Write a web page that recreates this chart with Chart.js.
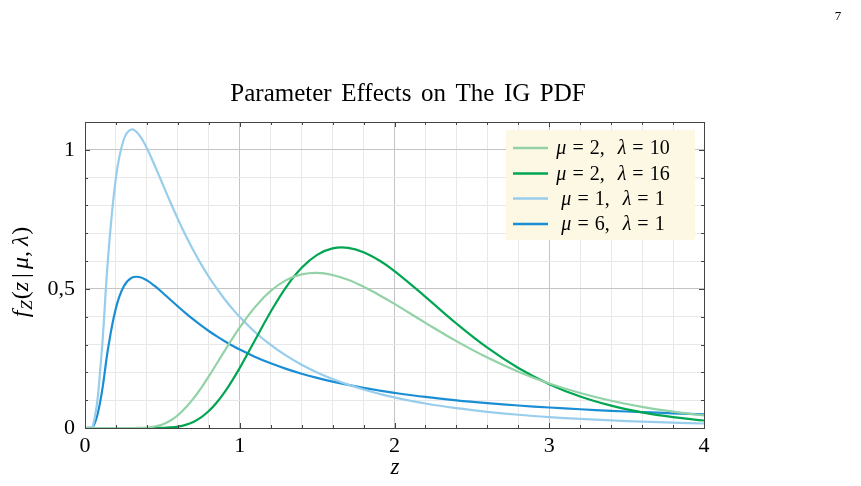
<!DOCTYPE html>
<html>
<head>
<meta charset="utf-8">
<script src="https://cdn.jsdelivr.net/npm/chart.js@4/dist/chart.umd.min.js"></script>
<style>
  body { margin: 0; background: #fff; }
  canvas { display: block; }
</style>
</head>
<body>
<canvas id="myChart" width="861" height="486"></canvas>
<script>
// z sample positions (read along the x axis)
var zs = [0, 0.05, 0.1, 0.15, 0.2, 0.25, 0.3, 0.35, 0.4, 0.45, 0.5, 0.55, 0.6, 0.65, 0.7, 0.75, 0.8, 0.85, 0.9, 0.95,
  1.0, 1.1, 1.2, 1.3, 1.4, 1.5, 1.6, 1.7, 1.8, 1.9, 2.0, 2.2, 2.4, 2.6, 2.8, 3.0, 3.2, 3.4, 3.6, 3.8, 4.0]
// mu = 2, lambda = 10
var igA = [0, 0, 0, 0, 0, 0, 0, 0.0004, 0.0017, 0.0053, 0.0129, 0.026, 0.0458, 0.0724, 0.1054, 0.1437, 0.1858, 0.2302, 0.2752, 0.3194,
  0.3614, 0.4355, 0.4928, 0.5315, 0.5522, 0.5576, 0.5501, 0.5328, 0.5081, 0.4784, 0.446, 0.3779, 0.3122, 0.2531, 0.2024, 0.1601, 0.1256, 0.0979, 0.0759, 0.0587, 0.0452]
// mu = 2, lambda = 16
var igB = [0, 0, 0, 0, 0, 0, 0, 0, 0, 0.0001, 0.0006, 0.0019, 0.005, 0.0112, 0.0218, 0.0381, 0.0609, 0.0907, 0.127, 0.1692,
  0.216, 0.3172, 0.4179, 0.5068, 0.5759, 0.6225, 0.6455, 0.6476, 0.6321, 0.6028, 0.5642, 0.4716, 0.3756, 0.2886, 0.2156, 0.1577, 0.1134, 0.0804, 0.0563, 0.0391, 0.027]
// mu = 1, lambda = 1
var igC = [0, 0.0043, 0.2198, 0.6177, 0.9005, 1.0363, 1.0729, 1.0535, 1.0055, 0.9443, 0.8788, 0.8137, 0.7513, 0.6929, 0.6388, 0.5891, 0.5438, 0.5024, 0.4646, 0.4303,
  0.3989, 0.3442, 0.2985, 0.26, 0.2275, 0.1998, 0.1761, 0.1558, 0.1383, 0.1231, 0.1099, 0.0881, 0.0713, 0.0582, 0.0477, 0.0394, 0.0327, 0.0273, 0.0228, 0.0192, 0.0162]
// mu = 6, lambda = 1
var igD = [0, 0.0019, 0.1003, 0.2888, 0.4314, 0.5085, 0.5395, 0.5428, 0.5308, 0.5108, 0.487, 0.462, 0.4371, 0.413, 0.3901, 0.3686, 0.3486, 0.33, 0.3127, 0.2968,
  0.2819, 0.2554, 0.2325, 0.2126, 0.1952, 0.1801, 0.1666, 0.1548, 0.1442, 0.1347, 0.1262, 0.1116, 0.0995, 0.0895, 0.0809, 0.0736, 0.0674, 0.0619, 0.0571, 0.0529, 0.0492]

var muVals = ['2', '2', '1', '6']
var lambdaVals = ['10', '16', '1', '1']
var colors = ['rgb(146,210,166)', 'rgb(0,166,81)', 'rgb(152,205,236)', 'rgb(26,142,212)']
var xTickLabels = { 0: '0', 1: '1', 2: '2', 3: '3', 4: '4' }
var yTickLabels = { 0: '0', 0.5: '0,5', 1: '1' }
var titleWords = ['Parameter', 'Effects', 'on', 'The', 'IG', 'PDF']

var serif = "'Liberation Serif', 'Times New Roman', serif"

function toPoints (ys) {
  return zs.map(function (z, i) { return { x: z, y: ys[i] } })
}

function isMult (v, step) {
  var r = v / step
  return Math.abs(r - Math.round(r)) < 1e-6
}

// draw a run of pieces: [text, italic, sizeScale, dy] or a number = gap in px
function drawRuns (ctx, runs, x, y, size, align) {
  var total = 0
  var ws = runs.map(function (r) {
    if (typeof r === 'number') return r
    ctx.font = (r[1] ? 'italic ' : '') + Math.round(size * (r[2] || 1)) + 'px ' + serif
    return ctx.measureText(r[0]).width
  })
  ws.forEach(function (w) { total += w })
  var cx = align === 'center' ? x - total / 2 : x
  runs.forEach(function (r, i) {
    if (typeof r !== 'number') {
      ctx.font = (r[1] ? 'italic ' : '') + Math.round(size * (r[2] || 1)) + 'px ' + serif
      ctx.fillText(r[0], cx, y + (r[3] || 0))
    }
    cx += ws[i]
  })
}

var decorations = {
  id: 'decorations',
  afterDraw: function (chart) {
    var ctx = chart.ctx
    var area = chart.chartArea
    var xs = chart.scales.x
    var ys = chart.scales.y
    ctx.save()
    ctx.textAlign = 'left'

    // inward ticks on all four sides
    ctx.strokeStyle = '#444'
    ctx.lineWidth = 1
    ctx.beginPath()
    for (var i = 0; i <= 20; i++) {
      var v = i * 0.2
      var px = Math.round(xs.getPixelForValue(v)) + 0.5
      var len = isMult(v, 1) ? 5 : 3
      ctx.moveTo(px, area.bottom); ctx.lineTo(px, area.bottom - len)
      ctx.moveTo(px, area.top); ctx.lineTo(px, area.top + len)
    }
    for (var j = 0; j <= 11; j++) {
      var w = j * 0.1
      var py = Math.round(ys.getPixelForValue(w)) + 0.5
      var l2 = isMult(w, 0.5) ? 5 : 3
      ctx.moveTo(area.left, py); ctx.lineTo(area.left + l2, py)
      ctx.moveTo(area.right, py); ctx.lineTo(area.right - l2, py)
    }
    ctx.stroke()
    ctx.strokeRect(Math.round(area.left) + 0.5, Math.round(area.top) + 0.5,
      Math.round(area.right - area.left), Math.round(area.bottom - area.top))

    // legend box
    ctx.fillStyle = 'rgb(253,248,228)'
    ctx.fillRect(506, 130, 189, 110)
    var rowY = [148, 173.5, 198.5, 224]
    ctx.textBaseline = 'middle'
    chart.data.datasets.forEach(function (ds, k) {
      ctx.strokeStyle = ds.borderColor
      ctx.lineWidth = 2.5
      ctx.beginPath()
      ctx.moveTo(513, rowY[k]); ctx.lineTo(548, rowY[k])
      ctx.stroke()
      ctx.fillStyle = '#000'
      drawRuns(ctx, [['μ', true], 6, ['=', false], 6, [muVals[k] + ',', false], 13, ['λ', true], 6, ['=', false], 6, [lambdaVals[k], false]],
        613, rowY[k] + 1, 20, 'center')
    })

    // title
    ctx.textBaseline = 'alphabetic'
    ctx.fillStyle = '#000'
    var tRuns = []
    titleWords.forEach(function (wd, k) {
      if (k > 0) tRuns.push(9.5)
      tRuns.push([wd, false])
    })
    drawRuns(ctx, tRuns, 408, 101, 25, 'center')

    // page number
    drawRuns(ctx, [['7', false]], 838, 20, 13, 'center')

    // x axis label
    drawRuns(ctx, [['z', true]], 395, 474, 23, 'center')

    // y axis label
    ctx.translate(28, 272)
    ctx.rotate(-Math.PI / 2)
    drawRuns(ctx, [['f', true], 1, ['Z', true, 0.72, 4], 1, ['(', false], ['z', true], 4, ['|', false], 4, ['μ', true], [',', false], 5, ['λ', true], 1, [')', false]],
      0, 0, 24, 'center')
    ctx.restore()
  }
}

function makeSet (label, ys, color) {
  return {
    label: label,
    data: toPoints(ys),
    borderColor: color,
    backgroundColor: color,
    borderWidth: 2.2,
    pointRadius: 0,
    fill: false,
    tension: 0.4
  }
}

var myChart = new Chart(document.getElementById('myChart'), {
  type: 'line',
  data: {
    datasets: [
      makeSet('μ = 2, λ = 10', igA, colors[0]),
      makeSet('μ = 2, λ = 16', igB, colors[1]),
      makeSet('μ = 1, λ = 1', igC, colors[2]),
      makeSet('μ = 6, λ = 1', igD, colors[3])
    ]
  },
  options: {
    responsive: false,
    animation: false,
    devicePixelRatio: 1,
    layout: { padding: { top: 122, right: 157, left: 0, bottom: 0 } },
    plugins: { legend: { display: false }, title: { display: false }, tooltip: { enabled: false } },
    scales: {
      x: {
        type: 'linear',
        min: 0,
        max: 4,
        afterFit: function (s) { s.height = 58 },
        ticks: {
          stepSize: 0.2,
          autoSkip: false,
          maxRotation: 0,
          padding: 5,
          color: '#000',
          font: { family: serif, size: 22 },
          callback: function (v) { return isMult(v, 1) ? xTickLabels[Math.round(v)] : '' }
        },
        grid: {
          drawTicks: false,
          color: function (c) { return isMult(c.tick.value, 1) ? '#c4c4c4' : '#e8e8e8' }
        },
        border: { color: '#444' }
      },
      y: {
        min: 0,
        max: 1.1,
        afterFit: function (s) { s.width = 85 },
        ticks: {
          stepSize: 0.1,
          autoSkip: false,
          padding: 10,
          color: '#000',
          font: { family: serif, size: 22 },
          callback: function (v) { return isMult(v, 0.5) ? yTickLabels[Math.round(v * 2) / 2] : '' }
        },
        grid: {
          drawTicks: false,
          color: function (c) { return isMult(c.tick.value, 0.5) ? '#c4c4c4' : '#e8e8e8' }
        },
        border: { color: '#444' }
      }
    }
  },
  plugins: [decorations]
})
</script>
</body>
</html>
